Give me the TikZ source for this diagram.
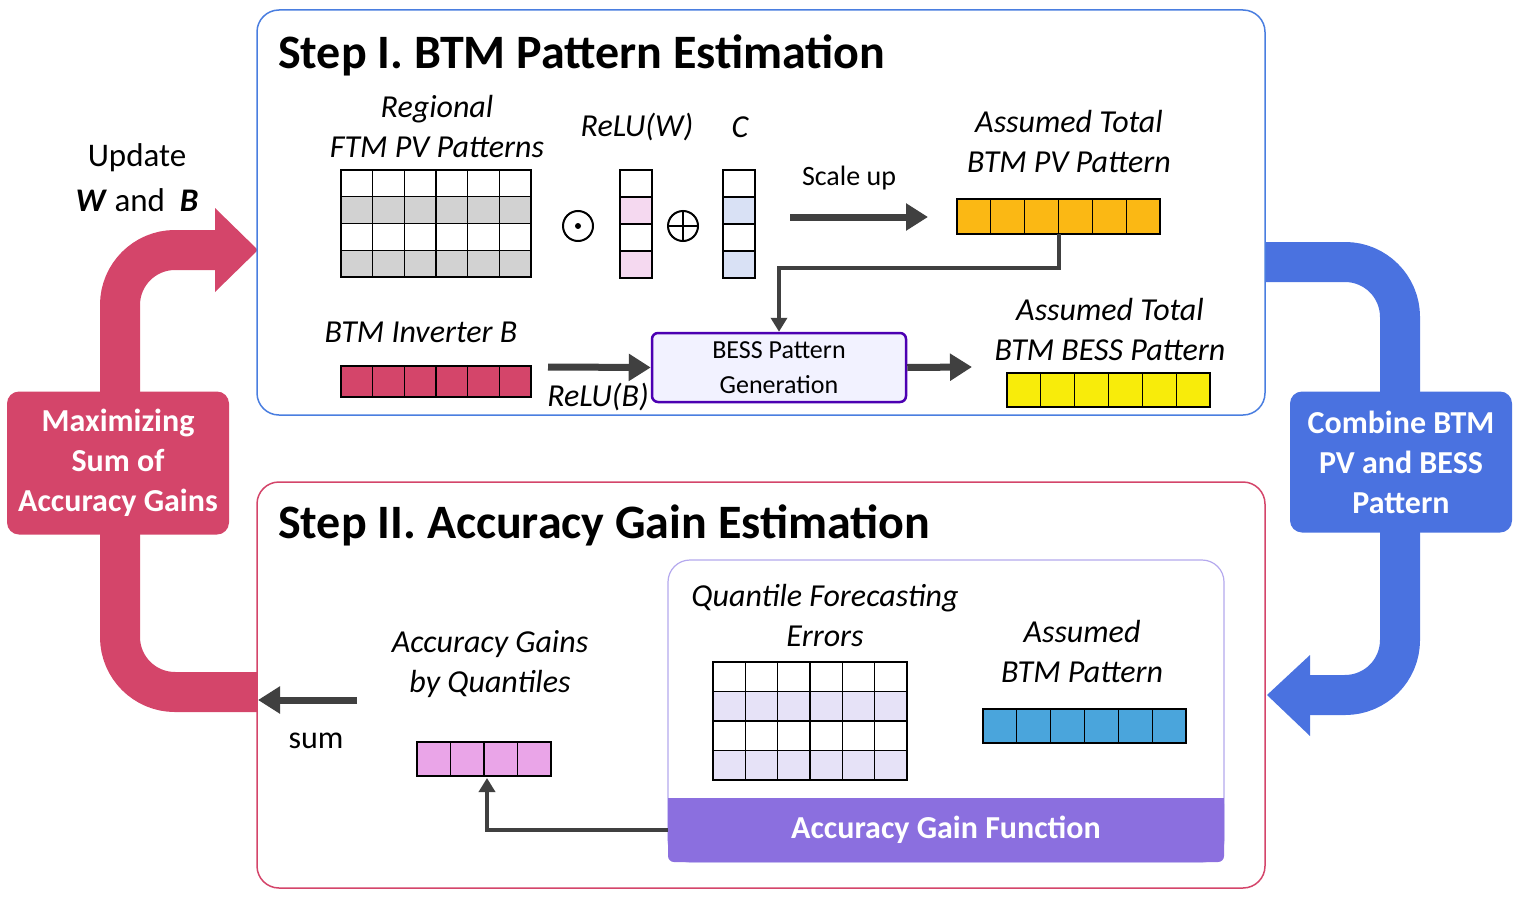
\documentclass[tikz,border=0pt]{standalone}
\usepackage{fontspec}
\setmainfont{Carlito}
\usetikzlibrary{calc,arrows.meta}
\definecolor{pinkA}{HTML}{D4456A}
\definecolor{blueA}{HTML}{4A72E0}
\definecolor{boxblue}{HTML}{4A7EE0}
\definecolor{darkg}{HTML}{404040}
\definecolor{purp}{HTML}{8B6FDF}
\definecolor{orangeB}{HTML}{FBB814}
\definecolor{yellowB}{HTML}{F8EC0A}
\definecolor{lavB}{HTML}{E6E2F7}
\definecolor{pinkB}{HTML}{EAA5E8}
\definecolor{blueB}{HTML}{4AA5DC}
\definecolor{pinkC}{HTML}{F5D9F0}
\definecolor{blueC}{HTML}{D9E1F5}
\definecolor{lavBorder}{HTML}{B5A9EE}
\tikzset{
  lbl/.style={font=\fontsize{32}{40}\selectfont\itshape, align=center, inner sep=0},
  ttl/.style={font=\fontsize{48}{52}\selectfont\bfseries, anchor=west, inner sep=0},
  darr/.style={darkg, line width=7pt, -{Triangle[length=22pt,width=26pt]}},
  conn/.style={darkg, line width=4pt, -{Triangle[length=14pt,width=16pt]}},
  cell/.style={draw=black, line width=1.3pt},
  opc/.style={circle, draw=black, line width=2pt, minimum size=30pt, inner sep=0},
}
\newcommand{\gridm}[7]{% x0 y0 x1 y1 cols rows shadedcolor
  \pgfmathsetmacro{\dx}{(#3-#1)/#5}\pgfmathsetmacro{\dy}{(#4-#2)/#6}
  \foreach \r in {1,...,#6}{\foreach \c in {1,...,#5}{
    \pgfmathsetmacro{\xa}{#1+(\c-1)*\dx}\pgfmathsetmacro{\ya}{#2+(\r-1)*\dy}
    \pgfmathtruncatemacro{\ev}{mod(\r,2)}
    \ifnum\ev=0 \fill[#7] (\xa,\ya) rectangle ++(\dx,\dy);\fi
    \draw[cell] (\xa,\ya) rectangle ++(\dx,\dy);}}}
\newcommand{\barm}[6]{% x0 y0 x1 y1 cols color
  \pgfmathsetmacro{\dx}{(#3-#1)/#5}
  \foreach \c in {1,...,#5}{\pgfmathsetmacro{\xa}{#1+(\c-1)*\dx}
    \filldraw[cell, fill=#6] (\xa,#2) rectangle (\xa+\dx,#4);}}
\begin{document}
\begin{tikzpicture}[x=1pt,y=-1pt]
\useasboundingbox (0,0) rectangle (1525,899);
% big arrows
\coordinate (la1) at (258,692); \coordinate (la2) at (120,692); \coordinate (la3) at (120,250); \coordinate (la4) at (218,250);
\draw[pinkA, line width=40pt, rounded corners=55pt] (la1) -- (la2) -- (la3) -- (la4);
\fill[pinkA] (215,208) -- (258,250) -- (215,292) -- cycle;
\coordinate (ra1) at (1265,262); \coordinate (ra2) at (1400,262); \coordinate (ra3) at (1400,695); \coordinate (ra4) at (1308,695);
\draw[blueA, line width=40pt, rounded corners=55pt] (ra1) -- (ra2) -- (ra3) -- (ra4);
\fill[blueA] (1310,655) -- (1267,695) -- (1310,736) -- cycle;
% boxes
\draw[boxblue, line width=1.5pt, fill=white, rounded corners=22pt] (257,10) rectangle (1265,415);
\draw[pinkA, line width=1.5pt, fill=white, rounded corners=22pt] (257,482) rectangle (1265,888);
\node[fill=pinkA, rounded corners=12pt, minimum width=222pt, minimum height=143pt, text=white, align=center,
  font=\fontsize{32}{40}\selectfont\bfseries] (maxs) at (118,463) {Maximizing\\Sum of\\Accuracy Gains};
\node[fill=blueA, rounded corners=12pt, minimum width=222pt, minimum height=141pt, text=white, align=center,
  font=\fontsize{32}{40}\selectfont\bfseries] (comb) at (1401,462) {Combine BTM\\PV and BESS\\Pattern};
\node[align=center, font=\fontsize{33}{45}\selectfont, inner sep=0] (upd) at (137,178) {Update\\\textbf{\textit{W}} and\ \ \textbf{\textit{B}}};
% Step I
\node[ttl] (t1) at (278,55) {Step I. BTM Pattern Estimation};
\node[lbl] (rf) at (437,127) {Regional\\FTM PV Patterns};
\gridm{341}{170}{531}{277}{6}{4}{gray!35}
\node[opc] (od) at (578,226) {};
\fill (od.center) circle (3pt);
\node[lbl] (rw) at (637,127) {ReLU(W)};
\gridm{620}{170}{652}{278}{1}{4}{pinkC}
\node[opc] (op) at (683,226) {};
\draw[line width=2pt] (op.north) -- (op.south) (op.west) -- (op.east);
\node[lbl] (cc) at (740,127) {C};
\gridm{723}{170}{755}{278}{1}{4}{blueC}
\node[font=\fontsize{28}{30}\selectfont, inner sep=0] (su) at (849,178) {Scale up};
\coordinate (s1) at (790,217); \coordinate (s2) at (928,217);
\draw[darr] (s1) -- (s2);
\node[lbl] (atp) at (1069,142) {Assumed Total\\BTM PV Pattern};
\barm{957}{199}{1160}{234}{6}{orangeB}
\coordinate (ob) at (1059,234);
\node[lbl] (inv) at (421,332) {BTM Inverter B};
\barm{341}{366}{531}{397}{6}{pinkA}
\node[draw=blue!60!purple, line width=2.5pt, fill=blue!5, rounded corners=6pt, minimum width=254pt, minimum height=69pt,
  align=center, font=\fontsize{26}{35}\selectfont] (bess) at (779,367.5) {BESS Pattern\\Generation};
\draw[conn] (ob) -- (1059,268) -- (779,268) -- (bess.north);
\coordinate (b1) at (548,367);
\draw[darr] (b1) -- (bess.west);
\node[lbl] (rb) at (598,397) {ReLU(B)};
\coordinate (b2) at (972,367);
\draw[darr] (bess.east) -- (b2);
\node[lbl] (atb) at (1110,330) {Assumed Total\\BTM BESS Pattern};
\barm{1007}{373}{1210}{407}{6}{yellowB}
% Step II
\node[ttl] (t2) at (278,525) {Step II. Accuracy Gain Estimation};
\draw[lavBorder, line width=1.2pt, fill=white, rounded corners=22pt] (668,560) rectangle (1224,862);
\fill[purp] (668,798) rectangle (1224,820);
\node[fill=purp, rounded corners=6pt, minimum width=556pt, minimum height=64pt, text=white,
  font=\fontsize{32}{34}\selectfont\bfseries] (agf) at (946,830) {Accuracy Gain Function};
\node[lbl] (qfe) at (825,615) {Quantile Forecasting\\Errors};
\gridm{713}{662}{907}{780}{6}{4}{lavB}
\node[lbl] (abp) at (1082,651) {Assumed\\BTM Pattern};
\barm{983}{709}{1186}{743}{6}{blueB}
\node[lbl] (agq) at (490,664) {Accuracy Gains\\by Quantiles};
\barm{417}{742}{551}{776}{4}{pinkB}
\coordinate (pq) at (487,778);
\draw[conn] (agf.west) -- (487,830) -- (pq);
\coordinate (m1) at (357,700); \coordinate (m2) at (258,700);
\draw[darr] (m1) -- (m2);
\node[font=\fontsize{32}{34}\selectfont, inner sep=0] (sum) at (316,741) {sum};
\end{tikzpicture}
\end{document}
